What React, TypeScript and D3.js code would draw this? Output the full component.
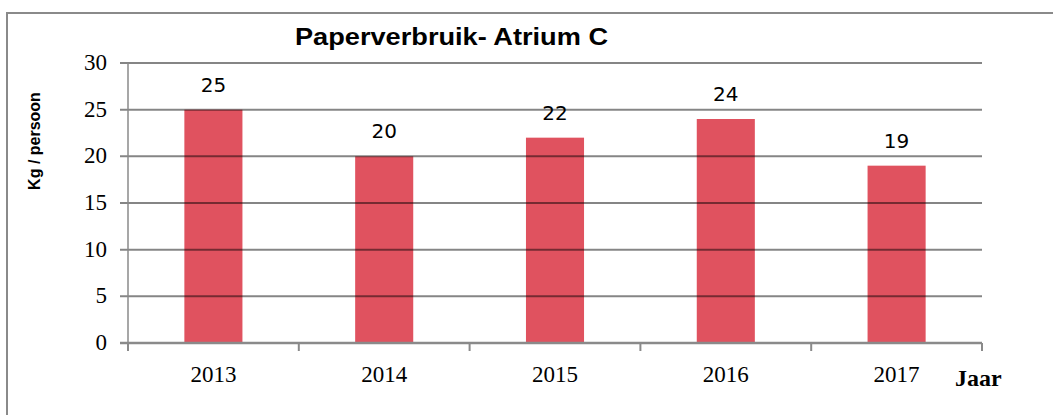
import React, { Component } from "react";
import * as d3 from "d3";

const years = ["2013", "2014", "2015", "2016", "2017"];
const kgPerPerson = [25, 20, 22, 24, 19];
const yTicks = [0, 5, 10, 15, 20, 25, 30];
const chartTitle = "Paperverbruik- Atrium C";
const yTitle = "Kg / persoon";
const xTitle = "Jaar";

class App extends Component {
  svgRef = React.createRef<SVGSVGElement>();

  componentDidMount() {
    this.draw();
  }

  draw() {
    const W = 1053, H = 415;
    // plot area
    const left = 128, right = 982, top = 63, bottom = 343;

    const svg = d3.select(this.svgRef.current);
    svg.selectAll("*").remove();
    svg.attr("width", W).attr("height", H);

    // outer frame (runs off the right and bottom edges)
    svg.append("rect")
      .attr("x", 7).attr("y", 13)
      .attr("width", W).attr("height", H)
      .attr("fill", "#fff")
      .attr("stroke", "#8a8a8a")
      .attr("stroke-width", 2);

    const x = d3.scaleBand<string>()
      .domain(years)
      .range([left, right])
      .paddingInner(0.66)
      .paddingOuter(0.33);

    const y = d3.scaleLinear()
      .domain([0, 30])
      .range([bottom, top]);

    // bars
    svg.selectAll("rect.bar")
      .data(years)
      .enter()
      .append("rect")
      .attr("class", "bar")
      .attr("x", (d) => x(d) as number)
      .attr("y", (d, i) => y(kgPerPerson[i]))
      .attr("width", x.bandwidth())
      .attr("height", (d, i) => bottom - y(kgPerPerson[i]))
      .attr("fill", "#e0525f");

    // gridlines (drawn over the bars, they darken them a little)
    svg.selectAll("line.grid")
      .data(yTicks.filter((t) => t > 0))
      .enter()
      .append("line")
      .attr("class", "grid")
      .attr("x1", 120).attr("x2", right)
      .attr("y1", (d) => y(d)).attr("y2", (d) => y(d))
      .attr("stroke", "rgba(0,0,0,0.48)")
      .attr("stroke-width", 2);

    // y axis line
    svg.append("line")
      .attr("x1", left).attr("x2", left)
      .attr("y1", top).attr("y2", bottom + 8)
      .attr("stroke", "#8a8a8a")
      .attr("stroke-width", 1.5);

    // x axis line + ticks at the category boundaries
    svg.append("line")
      .attr("x1", 120).attr("x2", right)
      .attr("y1", bottom).attr("y2", bottom)
      .attr("stroke", "#8a8a8a")
      .attr("stroke-width", 2.5);

    const step = x.step();
    svg.selectAll("line.xtick")
      .data(d3.range(years.length + 1))
      .enter()
      .append("line")
      .attr("class", "xtick")
      .attr("x1", (i) => left + i * step).attr("x2", (i) => left + i * step)
      .attr("y1", bottom).attr("y2", bottom + 8)
      .attr("stroke", "#8a8a8a")
      .attr("stroke-width", 2);

    // y tick labels
    svg.selectAll("text.ytick")
      .data(yTicks)
      .enter()
      .append("text")
      .attr("class", "ytick")
      .attr("x", 107)
      .attr("y", (d) => y(d) + 7)
      .attr("text-anchor", "end")
      .style("font-family", "'Liberation Serif', 'Times New Roman', serif")
      .style("font-size", "23px")
      .attr("fill", "#000")
      .text((d) => d);

    // x tick labels
    svg.selectAll("text.xlabel")
      .data(years)
      .enter()
      .append("text")
      .attr("class", "xlabel")
      .attr("x", (d) => (x(d) as number) + x.bandwidth() / 2)
      .attr("y", 382)
      .attr("text-anchor", "middle")
      .style("font-family", "'Liberation Serif', 'Times New Roman', serif")
      .style("font-size", "23px")
      .attr("fill", "#000")
      .text((d) => d);

    // value labels
    svg.selectAll("text.value")
      .data(years)
      .enter()
      .append("text")
      .attr("class", "value")
      .attr("x", (d) => (x(d) as number) + x.bandwidth() / 2)
      .attr("y", (d, i) => y(kgPerPerson[i]) - 18)
      .attr("text-anchor", "middle")
      .style("font-family", "'DejaVu Sans', sans-serif")
      .style("font-size", "20px")
      .attr("fill", "#000")
      .text((d, i) => kgPerPerson[i]);

    // title
    svg.append("text")
      .attr("x", 295)
      .attr("y", 45)
      .attr("textLength", 313)
      .attr("lengthAdjust", "spacingAndGlyphs")
      .style("font-family", "'Liberation Sans', Arial, sans-serif")
      .style("font-size", "24px")
      .style("font-weight", "bold")
      .attr("fill", "#000")
      .text(chartTitle);

    // y axis title
    svg.append("text")
      .attr("transform", "translate(40,141) rotate(-90)")
      .attr("text-anchor", "middle")
      .style("font-family", "'Liberation Sans', Arial, sans-serif")
      .style("font-size", "16px")
      .style("font-weight", "bold")
      .attr("fill", "#000")
      .text(yTitle);

    // x axis title
    svg.append("text")
      .attr("x", 955)
      .attr("y", 386)
      .style("font-family", "'Liberation Serif', 'Times New Roman', serif")
      .style("font-size", "24px")
      .style("font-weight", "bold")
      .attr("fill", "#000")
      .text(xTitle);
  }

  render() {
    return (
      <div style={{ position: "absolute", left: 0, top: 0 }}>
        <svg ref={this.svgRef} style={{ display: "block" }}></svg>
      </div>
    );
  }
}

export default App;
